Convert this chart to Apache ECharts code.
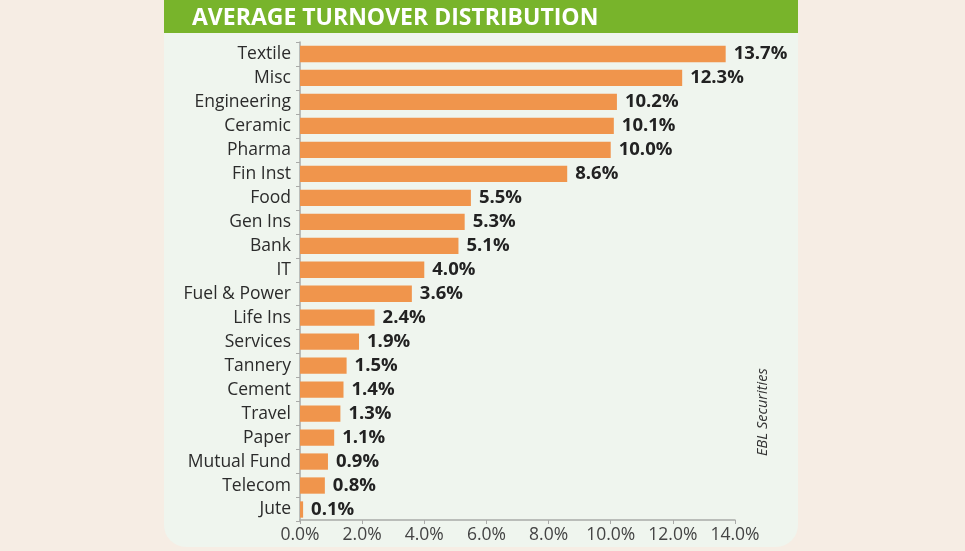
<!DOCTYPE html>
<html><head><meta charset="utf-8">
<script src="https://cdn.jsdelivr.net/npm/echarts@6/dist/echarts.min.js"></script>
<style>html,body{margin:0;padding:0;background:#f6ede4;}#c{width:965px;height:551px;}</style>
</head><body><div id="c"></div>
<script>
const categories = ["Textile","Misc","Engineering","Ceramic","Pharma","Fin Inst","Food","Gen Ins","Bank","IT","Fuel & Power","Life Ins","Services","Tannery","Cement","Travel","Paper","Mutual Fund","Telecom","Jute"];
const values = [13.7,12.3,10.2,10.1,10.0,8.6,5.5,5.3,5.1,4.0,3.6,2.4,1.9,1.5,1.4,1.3,1.1,0.9,0.8,0.1];
const titleText = "AVERAGE TURNOVER DISTRIBUTION";
const sourceText = "EBL Securities";

const chart = echarts.init(document.getElementById('c'), null, {renderer:'canvas'});
const font = '"Open Sans", "Noto Sans", sans-serif';
chart.setOption({
  backgroundColor: '#f6ede4',
  animation: false,
  graphic: [
    {type:'rect', z:-10, shape:{x:164,y:-30,width:634,height:577,r:22}, style:{fill:'#eff5ee'}},
    {type:'rect', z:-9, shape:{x:164,y:0,width:634,height:33}, style:{fill:'#78b42b'}},
    {type:'text', z:5, left:192, top:7, style:{text:titleText, fill:'#ffffff', font:'bold 23px '+font}},
    {type:'text', z:5, x:755, y:456, rotation:Math.PI/2, style:{text:sourceText, fill:'#333', font:'italic 14.5px '+font}}
  ],
  grid: {left:300, right:230, top:42, bottom:29.5},
  xAxis: {
    type:'value', min:0, max:14, interval:2, offset:-1.5,
    axisLine:{show:true, lineStyle:{color:'#a9aaa8', width:1.5}},
    axisTick:{show:true, length:4, lineStyle:{color:'#a9aaa8'}},
    splitLine:{show:false},
    axisLabel:{formatter:v=>v.toFixed(1)+'%', color:'#444', fontSize:17.5, fontFamily:font, margin:6}
  },
  yAxis: {
    type:'category', data:categories, inverse:true,
    axisLine:{show:true, lineStyle:{color:'#a9aaa8', width:1.5}},
    axisTick:{show:true, length:4, lineStyle:{color:'#a9aaa8'}},
    axisLabel:{color:'#2b2b2b', fontSize:17.5, fontFamily:font, margin:9}
  },
  series: [{
    type:'bar', data:values, barCategoryGap:'32%',
    itemStyle:{color:'#f0954c'},
    label:{show:true, position:'right', distance:8, formatter:p=>p.value.toFixed(1)+'%', color:'#222', fontSize:18.5, fontWeight:'bold', fontFamily:font}
  }]
});
</script></body></html>
